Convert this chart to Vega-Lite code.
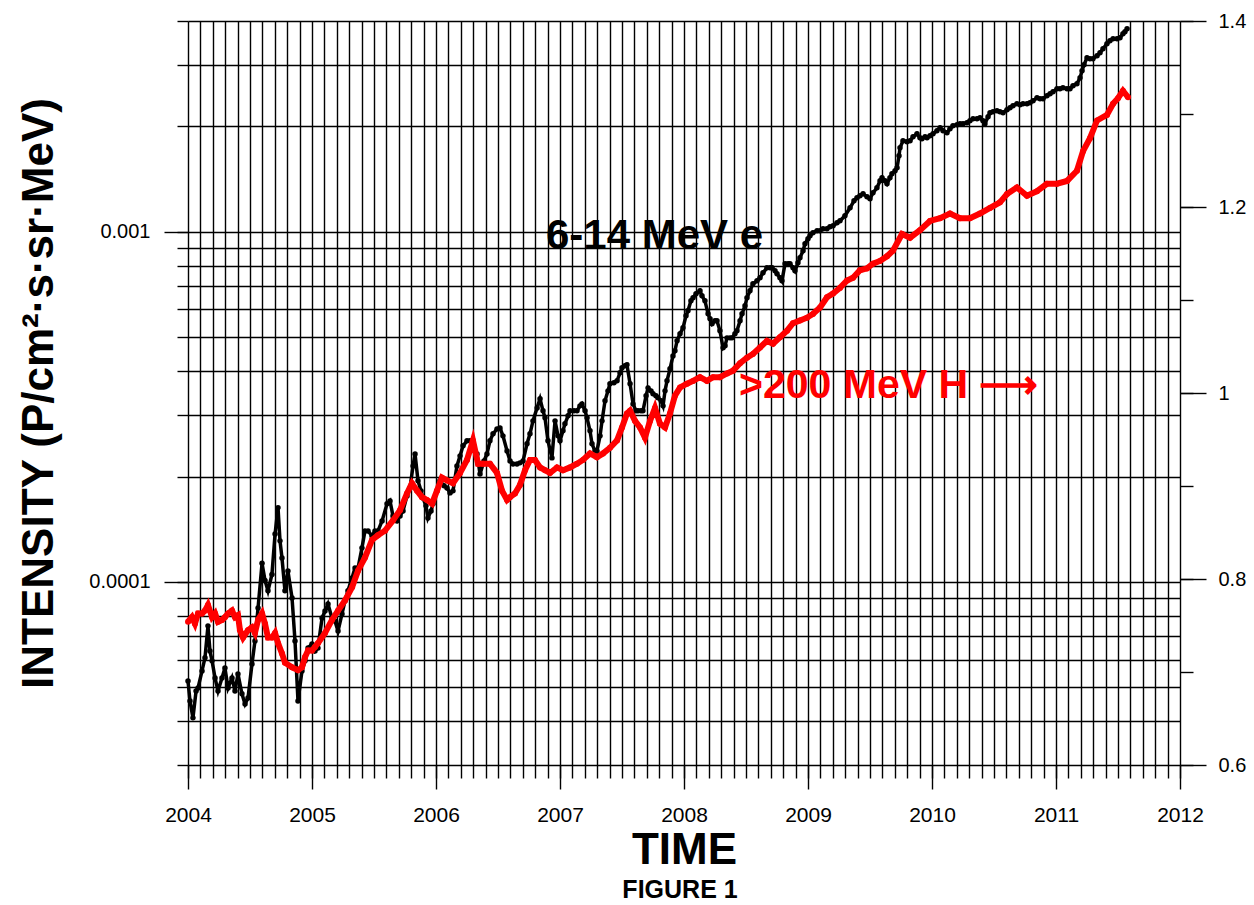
{
  "$schema": "https://vega.github.io/schema/vega-lite/v6.json",
  "width": 992,
  "height": 744,
  "autosize": {"type": "none"},
  "padding": {"left": 188, "top": 21, "right": 74, "bottom": 140},
  "background": "white",
  "config": {"view": {"stroke": null}, "font": "Liberation Sans"},
  "title": {"text": "FIGURE 1", "orient": "bottom", "anchor": "middle", "fontSize": 25, "fontWeight": "bold", "font": "Liberation Sans", "color": "#000", "offset": 6, "dx": -4},
  "datasets": {
    "electrons": [
      {"year": 2004.000, "intensity": 5.21e-5}, {"year": 2004.016, "intensity": 4.57e-5}, {"year": 2004.040, "intensity": 4.09e-5}, {"year": 2004.065, "intensity": 4.88e-5},
      {"year": 2004.081, "intensity": 4.98e-5}, {"year": 2004.113, "intensity": 5.57e-5}, {"year": 2004.137, "intensity": 6.07e-5}, {"year": 2004.161, "intensity": 7.49e-5},
      {"year": 2004.177, "intensity": 6.35e-5}, {"year": 2004.194, "intensity": 5.95e-5}, {"year": 2004.218, "intensity": 5.32e-5}, {"year": 2004.242, "intensity": 4.88e-5},
      {"year": 2004.274, "intensity": 5.32e-5}, {"year": 2004.298, "intensity": 5.68e-5}, {"year": 2004.323, "intensity": 4.98e-5}, {"year": 2004.355, "intensity": 5.32e-5},
      {"year": 2004.379, "intensity": 4.88e-5}, {"year": 2004.403, "intensity": 5.46e-5}, {"year": 2004.435, "intensity": 4.79e-5}, {"year": 2004.460, "intensity": 4.48e-5},
      {"year": 2004.484, "intensity": 4.66e-5}, {"year": 2004.516, "intensity": 5.83e-5}, {"year": 2004.540, "intensity": 6.78e-5}, {"year": 2004.565, "intensity": 8.43e-5},
      {"year": 2004.597, "intensity": 1.13e-4}, {"year": 2004.621, "intensity": 1.01e-4}, {"year": 2004.645, "intensity": 9.43e-5}, {"year": 2004.677, "intensity": 1.05e-4},
      {"year": 2004.702, "intensity": 1.37e-4}, {"year": 2004.726, "intensity": 1.63e-4}, {"year": 2004.742, "intensity": 1.31e-4}, {"year": 2004.758, "intensity": 1.17e-4},
      {"year": 2004.782, "intensity": 9.43e-5}, {"year": 2004.806, "intensity": 1.075e-4}, {"year": 2004.839, "intensity": 9.0e-5}, {"year": 2004.863, "intensity": 6.78e-5},
      {"year": 2004.887, "intensity": 4.57e-5}, {"year": 2004.919, "intensity": 5.57e-5}, {"year": 2004.944, "intensity": 5.95e-5}, {"year": 2004.968, "intensity": 6.48e-5},
      {"year": 2005.000, "intensity": 6.65e-5}, {"year": 2005.024, "intensity": 6.35e-5}, {"year": 2005.048, "intensity": 6.48e-5}, {"year": 2005.081, "intensity": 7.89e-5},
      {"year": 2005.105, "intensity": 8.26e-5}, {"year": 2005.129, "intensity": 8.65e-5}, {"year": 2005.161, "intensity": 7.89e-5}, {"year": 2005.185, "intensity": 7.74e-5},
      {"year": 2005.210, "intensity": 7.24e-5}, {"year": 2005.242, "intensity": 8.10e-5}, {"year": 2005.266, "intensity": 8.83e-5}, {"year": 2005.290, "intensity": 9.43e-5},
      {"year": 2005.323, "intensity": 1.027e-4}, {"year": 2005.347, "intensity": 1.096e-4}, {"year": 2005.371, "intensity": 1.096e-4}, {"year": 2005.403, "intensity": 1.251e-4},
      {"year": 2005.427, "intensity": 1.398e-4}, {"year": 2005.452, "intensity": 1.398e-4}, {"year": 2005.484, "intensity": 1.353e-4}, {"year": 2005.508, "intensity": 1.398e-4},
      {"year": 2005.532, "intensity": 1.398e-4}, {"year": 2005.565, "intensity": 1.494e-4}, {"year": 2005.605, "intensity": 1.671e-4}, {"year": 2005.629, "intensity": 1.704e-4},
      {"year": 2005.653, "intensity": 1.544e-4}, {"year": 2005.685, "intensity": 1.494e-4}, {"year": 2005.710, "intensity": 1.544e-4}, {"year": 2005.734, "intensity": 1.595e-4},
      {"year": 2005.766, "intensity": 1.761e-4}, {"year": 2005.790, "intensity": 1.856e-4}, {"year": 2005.815, "intensity": 2.145e-4}, {"year": 2005.831, "intensity": 2.321e-4},
      {"year": 2005.855, "intensity": 1.944e-4}, {"year": 2005.879, "intensity": 1.820e-4}, {"year": 2005.895, "intensity": 1.738e-4}, {"year": 2005.919, "intensity": 1.649e-4},
      {"year": 2005.935, "intensity": 1.523e-4}, {"year": 2005.960, "intensity": 1.595e-4}, {"year": 2005.976, "intensity": 1.671e-4}, {"year": 2006.008, "intensity": 1.820e-4},
      {"year": 2006.032, "intensity": 1.944e-4}, {"year": 2006.065, "intensity": 1.881e-4}, {"year": 2006.089, "intensity": 1.856e-4}, {"year": 2006.113, "intensity": 1.796e-4},
      {"year": 2006.137, "intensity": 1.820e-4}, {"year": 2006.169, "intensity": 2.145e-4}, {"year": 2006.194, "intensity": 2.291e-4}, {"year": 2006.218, "intensity": 2.447e-4},
      {"year": 2006.250, "intensity": 2.529e-4}, {"year": 2006.274, "intensity": 2.529e-4}, {"year": 2006.298, "intensity": 2.415e-4}, {"year": 2006.331, "intensity": 2.321e-4},
      {"year": 2006.355, "intensity": 2.035e-4}, {"year": 2006.387, "intensity": 2.216e-4}, {"year": 2006.411, "intensity": 2.321e-4}, {"year": 2006.435, "intensity": 2.529e-4},
      {"year": 2006.460, "intensity": 2.648e-4}, {"year": 2006.492, "intensity": 2.736e-4}, {"year": 2006.516, "intensity": 2.754e-4}, {"year": 2006.540, "intensity": 2.613e-4},
      {"year": 2006.573, "intensity": 2.367e-4}, {"year": 2006.597, "intensity": 2.216e-4}, {"year": 2006.621, "intensity": 2.173e-4}, {"year": 2006.653, "intensity": 2.173e-4},
      {"year": 2006.677, "intensity": 2.188e-4}, {"year": 2006.702, "intensity": 2.216e-4}, {"year": 2006.734, "intensity": 2.480e-4}, {"year": 2006.758, "intensity": 2.648e-4},
      {"year": 2006.782, "intensity": 2.884e-4}, {"year": 2006.815, "intensity": 3.141e-4}, {"year": 2006.839, "intensity": 3.334e-4}, {"year": 2006.863, "intensity": 3.081e-4},
      {"year": 2006.879, "intensity": 2.942e-4}, {"year": 2006.903, "intensity": 2.529e-4}, {"year": 2006.935, "intensity": 2.261e-4}, {"year": 2006.960, "intensity": 2.884e-4},
      {"year": 2006.984, "intensity": 2.613e-4}, {"year": 2007.000, "intensity": 2.529e-4}, {"year": 2007.024, "intensity": 2.701e-4}, {"year": 2007.040, "intensity": 2.828e-4},
      {"year": 2007.065, "intensity": 2.981e-4}, {"year": 2007.081, "intensity": 3.081e-4}, {"year": 2007.113, "intensity": 3.081e-4}, {"year": 2007.137, "intensity": 3.081e-4},
      {"year": 2007.161, "intensity": 3.183e-4}, {"year": 2007.177, "intensity": 3.225e-4}, {"year": 2007.202, "intensity": 3.081e-4}, {"year": 2007.218, "intensity": 2.942e-4},
      {"year": 2007.242, "intensity": 2.701e-4}, {"year": 2007.258, "intensity": 2.480e-4}, {"year": 2007.282, "intensity": 2.367e-4}, {"year": 2007.298, "intensity": 2.367e-4},
      {"year": 2007.323, "intensity": 2.613e-4}, {"year": 2007.339, "intensity": 2.884e-4}, {"year": 2007.363, "intensity": 3.290e-4}, {"year": 2007.387, "intensity": 3.513e-4},
      {"year": 2007.403, "intensity": 3.680e-4}, {"year": 2007.435, "intensity": 3.704e-4}, {"year": 2007.460, "intensity": 3.753e-4}, {"year": 2007.484, "intensity": 3.955e-4},
      {"year": 2007.500, "intensity": 4.088e-4}, {"year": 2007.524, "intensity": 4.142e-4}, {"year": 2007.540, "intensity": 4.169e-4}, {"year": 2007.565, "intensity": 3.680e-4},
      {"year": 2007.589, "intensity": 3.225e-4}, {"year": 2007.613, "intensity": 3.081e-4}, {"year": 2007.629, "intensity": 3.081e-4}, {"year": 2007.653, "intensity": 3.081e-4},
      {"year": 2007.669, "intensity": 3.081e-4}, {"year": 2007.694, "intensity": 3.400e-4}, {"year": 2007.710, "intensity": 3.583e-4}, {"year": 2007.734, "intensity": 3.513e-4},
      {"year": 2007.750, "intensity": 3.445e-4}, {"year": 2007.774, "intensity": 3.400e-4}, {"year": 2007.790, "intensity": 3.356e-4}, {"year": 2007.815, "intensity": 3.290e-4},
      {"year": 2007.831, "intensity": 3.183e-4}, {"year": 2007.847, "intensity": 3.513e-4}, {"year": 2007.863, "intensity": 3.753e-4}, {"year": 2007.887, "intensity": 4.061e-4},
      {"year": 2007.911, "intensity": 4.422e-4}, {"year": 2007.927, "intensity": 4.571e-4}, {"year": 2007.944, "intensity": 4.882e-4}, {"year": 2007.968, "intensity": 5.112e-4},
      {"year": 2007.992, "intensity": 5.318e-4}, {"year": 2008.016, "intensity": 5.754e-4}, {"year": 2008.032, "intensity": 5.947e-4}, {"year": 2008.056, "intensity": 6.351e-4},
      {"year": 2008.073, "intensity": 6.477e-4}, {"year": 2008.097, "intensity": 6.650e-4}, {"year": 2008.129, "intensity": 6.782e-4}, {"year": 2008.145, "intensity": 6.565e-4},
      {"year": 2008.169, "intensity": 6.351e-4}, {"year": 2008.194, "intensity": 5.831e-4}, {"year": 2008.210, "intensity": 5.642e-4}, {"year": 2008.226, "intensity": 5.459e-4},
      {"year": 2008.250, "intensity": 5.568e-4}, {"year": 2008.266, "intensity": 5.568e-4}, {"year": 2008.290, "intensity": 5.213e-4}, {"year": 2008.315, "intensity": 4.663e-4},
      {"year": 2008.331, "intensity": 4.724e-4}, {"year": 2008.347, "intensity": 4.978e-4}, {"year": 2008.371, "intensity": 4.978e-4}, {"year": 2008.387, "intensity": 4.978e-4},
      {"year": 2008.411, "intensity": 5.112e-4}, {"year": 2008.427, "intensity": 5.213e-4}, {"year": 2008.452, "intensity": 5.568e-4}, {"year": 2008.468, "intensity": 5.831e-4},
      {"year": 2008.492, "intensity": 6.146e-4}, {"year": 2008.508, "intensity": 6.477e-4}, {"year": 2008.532, "intensity": 6.782e-4}, {"year": 2008.556, "intensity": 7.102e-4},
      {"year": 2008.589, "intensity": 7.244e-4}, {"year": 2008.613, "intensity": 7.389e-4}, {"year": 2008.637, "intensity": 7.634e-4}, {"year": 2008.669, "intensity": 7.889e-4},
      {"year": 2008.694, "intensity": 7.889e-4}, {"year": 2008.710, "intensity": 7.889e-4}, {"year": 2008.734, "intensity": 7.737e-4}, {"year": 2008.750, "intensity": 7.586e-4},
      {"year": 2008.774, "intensity": 7.389e-4}, {"year": 2008.790, "intensity": 7.244e-4}, {"year": 2008.815, "intensity": 8.104e-4}, {"year": 2008.839, "intensity": 8.104e-4},
      {"year": 2008.855, "intensity": 8.104e-4}, {"year": 2008.879, "intensity": 7.889e-4}, {"year": 2008.895, "intensity": 7.737e-4}, {"year": 2008.919, "intensity": 8.157e-4},
      {"year": 2008.935, "intensity": 8.429e-4}, {"year": 2008.960, "intensity": 8.825e-4}, {"year": 2008.976, "intensity": 9.242e-4}, {"year": 2009.000, "intensity": 9.550e-4},
      {"year": 2009.016, "intensity": 9.741e-4}, {"year": 2009.040, "intensity": 9.934e-4}, {"year": 2009.073, "intensity": 1.007e-3}, {"year": 2009.097, "intensity": 1.007e-3},
      {"year": 2009.121, "intensity": 1.020e-3}, {"year": 2009.153, "intensity": 1.020e-3}, {"year": 2009.177, "intensity": 1.033e-3}, {"year": 2009.202, "intensity": 1.040e-3},
      {"year": 2009.234, "intensity": 1.061e-3}, {"year": 2009.258, "intensity": 1.075e-3}, {"year": 2009.298, "intensity": 1.111e-3}, {"year": 2009.339, "intensity": 1.171e-3},
      {"year": 2009.371, "intensity": 1.226e-3}, {"year": 2009.395, "intensity": 1.251e-3}, {"year": 2009.419, "intensity": 1.267e-3}, {"year": 2009.444, "intensity": 1.284e-3},
      {"year": 2009.476, "intensity": 1.259e-3}, {"year": 2009.500, "intensity": 1.242e-3}, {"year": 2009.524, "intensity": 1.292e-3}, {"year": 2009.556, "intensity": 1.336e-3},
      {"year": 2009.581, "intensity": 1.398e-3}, {"year": 2009.597, "intensity": 1.427e-3}, {"year": 2009.621, "intensity": 1.398e-3}, {"year": 2009.637, "intensity": 1.371e-3},
      {"year": 2009.661, "intensity": 1.427e-3}, {"year": 2009.677, "intensity": 1.464e-3}, {"year": 2009.702, "intensity": 1.494e-3}, {"year": 2009.718, "intensity": 1.523e-3},
      {"year": 2009.734, "intensity": 1.649e-3}, {"year": 2009.742, "intensity": 1.738e-3}, {"year": 2009.766, "intensity": 1.820e-3}, {"year": 2009.798, "intensity": 1.808e-3},
      {"year": 2009.823, "intensity": 1.820e-3}, {"year": 2009.847, "intensity": 1.868e-3}, {"year": 2009.879, "intensity": 1.905e-3}, {"year": 2009.903, "intensity": 1.856e-3},
      {"year": 2009.919, "intensity": 1.844e-3}, {"year": 2009.944, "intensity": 1.868e-3}, {"year": 2009.960, "intensity": 1.856e-3}, {"year": 2009.984, "intensity": 1.881e-3},
      {"year": 2010.008, "intensity": 1.905e-3}, {"year": 2010.040, "intensity": 1.944e-3}, {"year": 2010.065, "intensity": 1.983e-3}, {"year": 2010.089, "intensity": 1.944e-3},
      {"year": 2010.121, "intensity": 1.918e-3}, {"year": 2010.145, "intensity": 1.970e-3}, {"year": 2010.169, "intensity": 2.008e-3}, {"year": 2010.202, "intensity": 2.021e-3},
      {"year": 2010.226, "intensity": 2.035e-3}, {"year": 2010.250, "intensity": 2.035e-3}, {"year": 2010.282, "intensity": 2.048e-3}, {"year": 2010.306, "intensity": 2.075e-3},
      {"year": 2010.331, "intensity": 2.103e-3}, {"year": 2010.363, "intensity": 2.103e-3}, {"year": 2010.387, "intensity": 2.117e-3}, {"year": 2010.411, "intensity": 2.075e-3},
      {"year": 2010.427, "intensity": 2.035e-3}, {"year": 2010.452, "intensity": 2.131e-3}, {"year": 2010.468, "intensity": 2.188e-3}, {"year": 2010.492, "intensity": 2.203e-3},
      {"year": 2010.524, "intensity": 2.216e-3}, {"year": 2010.548, "intensity": 2.203e-3}, {"year": 2010.573, "intensity": 2.188e-3}, {"year": 2010.605, "intensity": 2.232e-3},
      {"year": 2010.629, "intensity": 2.261e-3}, {"year": 2010.653, "intensity": 2.291e-3}, {"year": 2010.685, "intensity": 2.321e-3}, {"year": 2010.710, "intensity": 2.306e-3},
      {"year": 2010.734, "intensity": 2.321e-3}, {"year": 2010.766, "intensity": 2.321e-3}, {"year": 2010.790, "intensity": 2.336e-3}, {"year": 2010.815, "intensity": 2.367e-3},
      {"year": 2010.847, "intensity": 2.415e-3}, {"year": 2010.871, "intensity": 2.399e-3}, {"year": 2010.895, "intensity": 2.399e-3}, {"year": 2010.927, "intensity": 2.447e-3},
      {"year": 2010.952, "intensity": 2.480e-3}, {"year": 2010.976, "intensity": 2.512e-3}, {"year": 2011.008, "intensity": 2.562e-3}, {"year": 2011.032, "intensity": 2.562e-3},
      {"year": 2011.056, "intensity": 2.579e-3}, {"year": 2011.089, "intensity": 2.562e-3}, {"year": 2011.113, "intensity": 2.562e-3}, {"year": 2011.137, "intensity": 2.613e-3},
      {"year": 2011.169, "intensity": 2.648e-3}, {"year": 2011.194, "intensity": 2.754e-3}, {"year": 2011.210, "intensity": 2.884e-3}, {"year": 2011.226, "intensity": 3.000e-3},
      {"year": 2011.250, "intensity": 3.141e-3}, {"year": 2011.274, "intensity": 3.121e-3}, {"year": 2011.298, "intensity": 3.121e-3}, {"year": 2011.331, "intensity": 3.183e-3},
      {"year": 2011.355, "intensity": 3.246e-3}, {"year": 2011.379, "intensity": 3.334e-3}, {"year": 2011.411, "intensity": 3.445e-3}, {"year": 2011.435, "intensity": 3.513e-3},
      {"year": 2011.460, "intensity": 3.559e-3}, {"year": 2011.492, "intensity": 3.559e-3}, {"year": 2011.516, "intensity": 3.583e-3}, {"year": 2011.540, "intensity": 3.680e-3},
      {"year": 2011.556, "intensity": 3.727e-3}, {"year": 2011.573, "intensity": 3.802e-3}
    ],
    "protons": [
      {"year": 2004.000, "value": 0.754}, {"year": 2004.032, "value": 0.759}, {"year": 2004.056, "value": 0.752}, {"year": 2004.081, "value": 0.763},
      {"year": 2004.113, "value": 0.763}, {"year": 2004.137, "value": 0.766}, {"year": 2004.161, "value": 0.772}, {"year": 2004.194, "value": 0.759},
      {"year": 2004.218, "value": 0.763}, {"year": 2004.242, "value": 0.754}, {"year": 2004.274, "value": 0.756}, {"year": 2004.298, "value": 0.759},
      {"year": 2004.323, "value": 0.763}, {"year": 2004.355, "value": 0.766}, {"year": 2004.379, "value": 0.759}, {"year": 2004.403, "value": 0.761},
      {"year": 2004.419, "value": 0.745}, {"year": 2004.444, "value": 0.737}, {"year": 2004.484, "value": 0.745}, {"year": 2004.516, "value": 0.748},
      {"year": 2004.540, "value": 0.742}, {"year": 2004.565, "value": 0.756}, {"year": 2004.597, "value": 0.763}, {"year": 2004.621, "value": 0.752},
      {"year": 2004.645, "value": 0.737}, {"year": 2004.677, "value": 0.737}, {"year": 2004.702, "value": 0.742}, {"year": 2004.726, "value": 0.731},
      {"year": 2004.758, "value": 0.720}, {"year": 2004.782, "value": 0.710}, {"year": 2004.839, "value": 0.705}, {"year": 2004.887, "value": 0.702},
      {"year": 2004.919, "value": 0.705}, {"year": 2004.944, "value": 0.716}, {"year": 2004.968, "value": 0.723}, {"year": 2005.000, "value": 0.723},
      {"year": 2005.024, "value": 0.727}, {"year": 2005.048, "value": 0.731}, {"year": 2005.105, "value": 0.742}, {"year": 2005.161, "value": 0.756},
      {"year": 2005.210, "value": 0.766}, {"year": 2005.266, "value": 0.777}, {"year": 2005.323, "value": 0.791}, {"year": 2005.371, "value": 0.809},
      {"year": 2005.427, "value": 0.823}, {"year": 2005.484, "value": 0.842}, {"year": 2005.532, "value": 0.847}, {"year": 2005.589, "value": 0.852},
      {"year": 2005.653, "value": 0.863}, {"year": 2005.710, "value": 0.874}, {"year": 2005.766, "value": 0.892}, {"year": 2005.806, "value": 0.903},
      {"year": 2005.847, "value": 0.895}, {"year": 2005.887, "value": 0.888}, {"year": 2005.927, "value": 0.885}, {"year": 2005.968, "value": 0.881},
      {"year": 2006.008, "value": 0.895}, {"year": 2006.048, "value": 0.909}, {"year": 2006.089, "value": 0.906}, {"year": 2006.137, "value": 0.903},
      {"year": 2006.194, "value": 0.914}, {"year": 2006.250, "value": 0.928}, {"year": 2006.298, "value": 0.949}, {"year": 2006.339, "value": 0.924},
      {"year": 2006.379, "value": 0.924}, {"year": 2006.435, "value": 0.924}, {"year": 2006.492, "value": 0.914}, {"year": 2006.532, "value": 0.895},
      {"year": 2006.573, "value": 0.885}, {"year": 2006.597, "value": 0.888}, {"year": 2006.637, "value": 0.892}, {"year": 2006.677, "value": 0.901},
      {"year": 2006.718, "value": 0.917}, {"year": 2006.758, "value": 0.928}, {"year": 2006.798, "value": 0.928}, {"year": 2006.839, "value": 0.920},
      {"year": 2006.879, "value": 0.917}, {"year": 2006.919, "value": 0.914}, {"year": 2006.976, "value": 0.920}, {"year": 2007.024, "value": 0.917},
      {"year": 2007.081, "value": 0.920}, {"year": 2007.137, "value": 0.924}, {"year": 2007.185, "value": 0.928}, {"year": 2007.242, "value": 0.935},
      {"year": 2007.298, "value": 0.931}, {"year": 2007.347, "value": 0.935}, {"year": 2007.403, "value": 0.941}, {"year": 2007.460, "value": 0.949},
      {"year": 2007.500, "value": 0.963}, {"year": 2007.540, "value": 0.978}, {"year": 2007.565, "value": 0.981}, {"year": 2007.605, "value": 0.970},
      {"year": 2007.645, "value": 0.963}, {"year": 2007.685, "value": 0.952}, {"year": 2007.726, "value": 0.970}, {"year": 2007.766, "value": 0.984},
      {"year": 2007.806, "value": 0.967}, {"year": 2007.847, "value": 0.963}, {"year": 2007.887, "value": 0.978}, {"year": 2007.927, "value": 0.997},
      {"year": 2007.968, "value": 1.006}, {"year": 2008.024, "value": 1.010}, {"year": 2008.073, "value": 1.013}, {"year": 2008.129, "value": 1.017},
      {"year": 2008.185, "value": 1.013}, {"year": 2008.234, "value": 1.017}, {"year": 2008.290, "value": 1.017}, {"year": 2008.347, "value": 1.021},
      {"year": 2008.395, "value": 1.024}, {"year": 2008.452, "value": 1.032}, {"year": 2008.508, "value": 1.038}, {"year": 2008.556, "value": 1.042},
      {"year": 2008.613, "value": 1.049}, {"year": 2008.669, "value": 1.056}, {"year": 2008.718, "value": 1.053}, {"year": 2008.774, "value": 1.060},
      {"year": 2008.831, "value": 1.067}, {"year": 2008.879, "value": 1.075}, {"year": 2008.935, "value": 1.078}, {"year": 2008.992, "value": 1.081},
      {"year": 2009.040, "value": 1.085}, {"year": 2009.097, "value": 1.092}, {"year": 2009.153, "value": 1.103}, {"year": 2009.202, "value": 1.107},
      {"year": 2009.258, "value": 1.113}, {"year": 2009.315, "value": 1.121}, {"year": 2009.363, "value": 1.124}, {"year": 2009.419, "value": 1.132},
      {"year": 2009.476, "value": 1.134}, {"year": 2009.524, "value": 1.139}, {"year": 2009.581, "value": 1.142}, {"year": 2009.637, "value": 1.147},
      {"year": 2009.685, "value": 1.153}, {"year": 2009.758, "value": 1.171}, {"year": 2009.823, "value": 1.167}, {"year": 2009.903, "value": 1.175},
      {"year": 2009.984, "value": 1.185}, {"year": 2010.065, "value": 1.188}, {"year": 2010.145, "value": 1.193}, {"year": 2010.226, "value": 1.188},
      {"year": 2010.306, "value": 1.188}, {"year": 2010.387, "value": 1.193}, {"year": 2010.468, "value": 1.199}, {"year": 2010.548, "value": 1.205},
      {"year": 2010.605, "value": 1.214}, {"year": 2010.685, "value": 1.221}, {"year": 2010.766, "value": 1.212}, {"year": 2010.847, "value": 1.217},
      {"year": 2010.927, "value": 1.225}, {"year": 2011.008, "value": 1.225}, {"year": 2011.089, "value": 1.228}, {"year": 2011.169, "value": 1.239},
      {"year": 2011.218, "value": 1.260}, {"year": 2011.274, "value": 1.274}, {"year": 2011.331, "value": 1.293}, {"year": 2011.411, "value": 1.299},
      {"year": 2011.460, "value": 1.311}, {"year": 2011.500, "value": 1.317}, {"year": 2011.540, "value": 1.325}, {"year": 2011.581, "value": 1.318}
    ]
  },
  "layer": [
    {
      "resolve": {"axis": {"x": "independent", "y": "independent"}},
      "layer": [
        {
          "data": {"name": "electrons"},
          "mark": {"type": "line", "color": "#000", "strokeWidth": 3.5, "point": {"filled": true, "size": 30, "color": "#000"}},
          "encoding": {
            "x": {
              "field": "year", "type": "quantitative",
              "scale": {"domain": [2004, 2012], "nice": false, "zero": false},
              "axis": {
                "orient": "bottom",
                "values": [2004, 2004.1, 2004.2, 2004.3, 2004.4, 2004.5, 2004.6, 2004.7, 2004.8, 2004.9,
                           2005, 2005.1, 2005.2, 2005.3, 2005.4, 2005.5, 2005.6, 2005.7, 2005.8, 2005.9,
                           2006, 2006.1, 2006.2, 2006.3, 2006.4, 2006.5, 2006.6, 2006.7, 2006.8, 2006.9,
                           2007, 2007.1, 2007.2, 2007.3, 2007.4, 2007.5, 2007.6, 2007.7, 2007.8, 2007.9,
                           2008, 2008.1, 2008.2, 2008.3, 2008.4, 2008.5, 2008.6, 2008.7, 2008.8, 2008.9,
                           2009, 2009.1, 2009.2, 2009.3, 2009.4, 2009.5, 2009.6, 2009.7, 2009.8, 2009.9,
                           2010, 2010.1, 2010.2, 2010.3, 2010.4, 2010.5, 2010.6, 2010.7, 2010.8, 2010.9,
                           2011, 2011.1, 2011.2, 2011.3, 2011.4, 2011.5, 2011.6, 2011.7, 2011.8, 2011.9, 2012],
                "grid": true, "gridColor": "#000", "gridWidth": 1.4, "gridOpacity": 1,
                "domain": false, "labels": false, "title": null,
                "tickColor": "#000", "tickWidth": 1.4, "tickSize": 13
              }
            },
            "y": {
              "field": "intensity", "type": "quantitative",
              "scale": {"type": "log", "domain": [0.00003, 0.004], "nice": false},
              "axis": {
                "orient": "left",
                "values": [0.00003, 0.00004, 0.00005, 0.00006, 0.00007, 0.00008, 0.00009, 0.0001, 0.0002, 0.0003, 0.0004, 0.0005, 0.0006, 0.0007, 0.0008, 0.0009, 0.001, 0.002, 0.003, 0.004],
                "grid": true, "gridColor": "#000", "gridWidth": 1.4, "gridOpacity": 1,
                "domain": false, "labels": false, "title": null,
                "tickColor": "#000", "tickWidth": 1.4, "tickSize": 11
              }
            }
          }
        },
        {
          "data": {"values": [{"year": 2006.887, "intensity": 0.000894, "label": "6-14 MeV e"}]},
          "mark": {"type": "text", "align": "left", "baseline": "alphabetic", "font": "Liberation Sans", "fontSize": 42, "fontWeight": "bold", "color": "#000"},
          "encoding": {
            "x": {
              "field": "year", "type": "quantitative",
              "axis": {
                "orient": "bottom",
                "values": [2004, 2005, 2006, 2007, 2008, 2009, 2010, 2011, 2012],
                "format": "d",
                "grid": false, "domain": false,
                "tickColor": "#000", "tickWidth": 1.4, "tickSize": 24,
                "labelFlush": false, "labelOverlap": false, "labelBound": false,
                "labelFont": "Liberation Sans", "labelFontSize": 21, "labelColor": "#000", "labelPadding": 15,
                "title": "TIME", "titleFont": "Liberation Sans", "titleFontSize": 44, "titleFontWeight": "bold", "titleColor": "#000", "titlePadding": 3
              }
            },
            "y": {
              "field": "intensity", "type": "quantitative",
              "axis": {
                "orient": "left",
                "values": [0.0001, 0.001],
                "labelExpr": "datum.value < 0.0005 ? '0.0001' : '0.001'",
                "grid": false, "domain": false,
                "tickColor": "#000", "tickWidth": 1.4, "tickSize": 24,
                "labelOverlap": false, "labelFlush": false, "labelBound": false,
                "labelFont": "Liberation Sans", "labelFontSize": 20, "labelColor": "#000", "labelPadding": 14,
                "title": "INTENSITY (P/cm²·s·sr·MeV)", "titleFont": "Liberation Sans", "titleFontSize": 44, "titleFontWeight": "bold", "titleColor": "#000", "titlePadding": 27
              }
            },
            "text": {"field": "label"}
          }
        }
      ]
    },
    {
      "resolve": {"axis": {"y": "independent"}},
      "layer": [
        {
          "data": {"name": "protons"},
          "mark": {"type": "line", "color": "#ff0000", "strokeWidth": 6, "point": {"filled": true, "size": 36, "color": "#ff0000"}},
          "encoding": {
            "x": {"field": "year", "type": "quantitative", "axis": null},
            "y": {
              "field": "value", "type": "quantitative",
              "scale": {"domain": [0.6, 1.4], "nice": false, "zero": false},
              "axis": {
                "orient": "right",
                "values": [0.6, 0.7, 0.8, 0.9, 1.0, 1.1, 1.2, 1.3, 1.4],
                "grid": false, "domain": false, "labels": false, "title": null,
                "tickColor": "#000", "tickWidth": 1.4, "tickSize": 13
              }
            }
          }
        },
        {
          "data": {"values": [{"year": 2008.444, "value": 0.995, "label": ">200 MeV H  ⟶"}]},
          "mark": {"type": "text", "align": "left", "baseline": "alphabetic", "font": "Liberation Sans", "fontSize": 41, "fontWeight": "bold", "color": "#ff0000"},
          "encoding": {
            "x": {"field": "year", "type": "quantitative", "axis": null},
            "y": {
              "field": "value", "type": "quantitative",
              "axis": {
                "orient": "right",
                "values": [0.6, 0.8, 1.0, 1.2, 1.4],
                "format": "~g",
                "grid": false, "domain": false, "title": null,
                "tickColor": "#000", "tickWidth": 1.4, "tickSize": 26,
                "labelOverlap": false, "labelFlush": false, "labelBound": false,
                "labelFont": "Liberation Sans", "labelFontSize": 20, "labelColor": "#000", "labelPadding": 12
              }
            },
            "text": {"field": "label"}
          }
        }
      ]
    }
  ],
  "resolve": {"scale": {"y": "independent"}}
}
